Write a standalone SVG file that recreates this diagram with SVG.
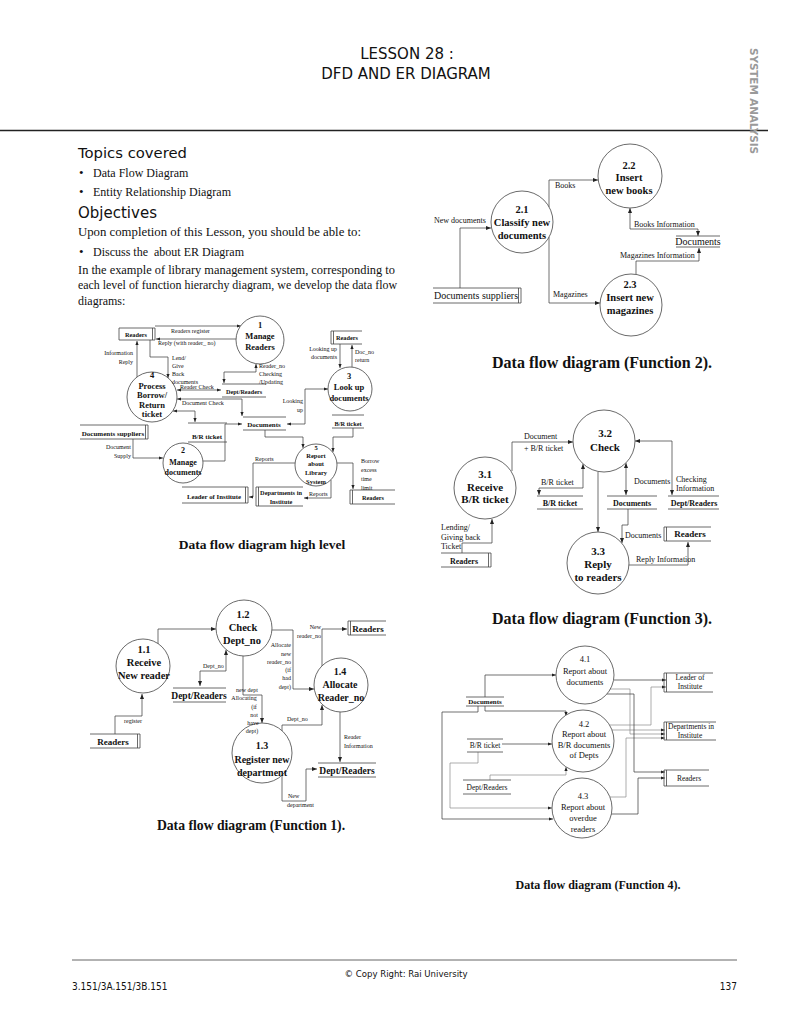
<svg xmlns="http://www.w3.org/2000/svg" width="791" height="1024" viewBox="0 0 791 1024">
<defs>
<marker id="ah" viewBox="0 0 10 10" refX="10" refY="5" markerWidth="5" markerHeight="5" markerUnits="userSpaceOnUse" orient="auto-start-reverse"><path d="M0,1 L10,5 L0,9 z" fill="#222"/></marker>
<marker id="as" viewBox="0 0 10 10" refX="10" refY="5" markerWidth="4" markerHeight="4" markerUnits="userSpaceOnUse" orient="auto-start-reverse"><path d="M0,1 L10,5 L0,9 z" fill="#222"/></marker>
</defs>
<style>
.p{fill:#fff;stroke:#444;stroke-width:0.8}
.st{fill:none;stroke:#444;stroke-width:0.8}
.c{fill:none;stroke:#333;stroke-width:0.7}
.g{stroke:#8a8a8a}
.a{marker-end:url(#ah)}
.b{marker-start:url(#ah);marker-end:url(#ah)}
.as{marker-end:url(#as)}
.bs{marker-start:url(#as);marker-end:url(#as)}
text{font-family:"Liberation Serif","Times New Roman",serif;fill:#111}
.sans{font-family:"DejaVu Sans",sans-serif}
.m{text-anchor:middle}
.e{text-anchor:end}
.bd{font-weight:bold}
.cap{font-weight:bold;text-anchor:middle}
</style>
<rect width="791" height="1024" fill="#fff"/>

<!-- Page header -->
<g id="header">
<text class="sans m" x="407" y="59" font-size="15">LESSON 28 :</text>
<text class="sans m" x="406" y="79" font-size="15">DFD AND ER DIAGRAM</text>
<line x1="0" y1="130.5" x2="768" y2="130.5" stroke="#222" stroke-width="1.5"/>
<text class="sans bd" transform="translate(750,48) rotate(90)" font-size="10.5" style="fill:#9a9a9a" textLength="106" lengthAdjust="spacing">SYSTEM  ANALYSIS</text>
</g>

<!-- Body text -->
<g id="body">
<text class="sans" x="78" y="158" font-size="14.8">Topics covered</text>
<text x="79" y="177" font-size="13">•</text>
<text x="93" y="177" font-size="12">Data Flow Diagram</text>
<text x="79" y="196" font-size="13">•</text>
<text x="93" y="196" font-size="12">Entity Relationship Diagram</text>
<text class="sans" x="78" y="218" font-size="15">Objectives</text>
<text x="78" y="236" font-size="12" textLength="283" lengthAdjust="spacingAndGlyphs">Upon completion of this Lesson, you should be able to:</text>
<text x="79" y="256" font-size="13">•</text>
<text x="93" y="256" font-size="12" xml:space="preserve">Discuss the  about ER Diagram</text>
<text x="78" y="274" font-size="12" textLength="317" lengthAdjust="spacingAndGlyphs">In the example of library management system, corresponding to</text>
<text x="78" y="289" font-size="12" textLength="319" lengthAdjust="spacingAndGlyphs">each level of function hierarchy diagram, we develop the data flow</text>
<text x="78" y="305" font-size="12">diagrams:</text>
</g>

<!-- ================= High level DFD ================= -->
<g id="dfd-high">
<g id="hl-connectors">
<path class="c as" d="M155,326 H241"/>
<path class="c as" d="M237,339 H156"/>
<path class="c as" d="M137,377 V341"/>
<path class="c as" d="M150,340 V357 H168 V378"/>
<path class="c bs" d="M177,390 H221"/>
<path class="c bs" d="M177,399 H242 V416"/>
<path class="c bs" d="M224,383 V372 H256 V364"/>
<path class="c as" d="M203,461 H225 V424 H242"/>
<path class="c bs" d="M287,424 H305 V389 H328"/>
<path class="c as" d="M340,344 V368"/>
<path class="c as" d="M352,367 V345"/>
<path class="c as" d="M265,430 V437 H303 V448"/>
<path class="c as" d="M353,428 V437 H333 V452"/>
<path class="c as" d="M337,463 H353 V489"/>
<path class="c as" d="M331,480 V498 H304"/>
<path class="c as" d="M295,463 H253 V497 H249"/>
<path class="c bs" d="M173,411 H195 V422"/>
<path class="c as" d="M133,439 V458 H163"/>
</g>
<g id="hl-p1"><circle class="p" cx="260" cy="340" r="24"/>
<g font-size="8.5"><text class="m bd" x="260" y="328">1</text><text class="m bd" x="260" y="339">Manage</text><text class="m bd" x="260" y="350">Readers</text></g></g>
<g id="hl-p4"><circle class="p" cx="152" cy="397" r="25"/>
<g font-size="8.5"><text class="m bd" x="152" y="378">4</text><text class="m bd" x="152" y="389">Process</text><text class="m bd" x="152" y="398">Borrow/</text><text class="m bd" x="152" y="408">Return</text><text class="m bd" x="152" y="417">ticket</text></g></g>
<g id="hl-p2"><circle class="p" cx="183" cy="463" r="20"/>
<g font-size="8"><text class="m bd" x="183" y="453">2</text><text class="m bd" x="183" y="465">Manage</text><text class="m bd" x="183" y="475">documents</text></g></g>
<g id="hl-p3"><circle class="p" cx="350" cy="389" r="22"/>
<g font-size="8.5"><text class="m bd" x="349" y="379">3</text><text class="m bd" x="349" y="390">Look up</text><text class="m bd" x="349" y="401">documents</text></g></g>
<g id="hl-p5"><circle class="p" cx="316" cy="465" r="21"/>
<g font-size="6.5"><text class="m bd" x="316" y="450">5</text><text class="m bd" x="316" y="458">Report</text><text class="m bd" x="316" y="466">about</text><text class="m bd" x="316" y="475">Library</text><text class="m bd" x="316" y="484">System</text></g></g>
<g id="hl-s-readers1"><path class="st" d="M119,328 H155 V340 H119 Z M152.5,328 V340"/><text class="m bd" x="136" y="337" font-size="6.3">Readers</text></g>
<g id="hl-s-readers2"><path class="st" d="M362,331 H331 V344 H362 M333.5,331 V344"/><text class="m bd" x="347" y="340" font-size="6.3">Readers</text></g>
<g id="hl-s-deptreaders"><path class="st" d="M222,384 H266 M222,397 H266"/><text class="m bd" x="244" y="394" font-size="6.2">Dept/Readers</text></g>
<g id="hl-s-documents"><path class="st" d="M243,417 H286 M243,430 H286"/><text class="m bd" x="264" y="427" font-size="7">Documents</text></g>
<g id="hl-s-brticket1"><path class="st" d="M188,423 H227 M188,442 H227"/><text class="m bd" x="207" y="439" font-size="7">B/R ticket</text></g>
<g id="hl-s-brticket2"><path class="st" d="M332,415 H364 M332,428 H364"/><text class="m bd" x="348" y="425.5" font-size="6.3">B/R ticket</text></g>
<g id="hl-s-docsuppliers"><path class="st" d="M80,425 H148 V439 H80 M145.5,425 V439"/><text class="m bd" x="113" y="436" font-size="7">Documents suppliers</text></g>
<g id="hl-s-leader"><path class="st" d="M182,487 H248 V503 H182 M245.5,487 V503"/><text class="m bd" x="214" y="499" font-size="6.8">Leader of Institute</text></g>
<g id="hl-s-depts"><path class="st" d="M303,487 H256 V506 H303 M258.5,487 V506"/><text class="m bd" x="281" y="495" font-size="6.3">Departments in</text><text class="m bd" x="281" y="503.5" font-size="6.3">Institute</text></g>
<g id="hl-s-readers3"><path class="st" d="M395,490 H350 V504 H395 M352.5,490 V504"/><text class="m bd" x="373" y="500" font-size="6.3">Readers</text></g>
<g id="hl-labels" font-size="6">
<text x="171" y="333">Readers register</text>
<text x="158" y="345">Reply (with reader_ no)</text>
<text class="e" x="133" y="355">Information</text>
<text class="e" x="133" y="364">Reply</text>
<text x="172" y="360">Lend/</text>
<text x="172" y="368">Give</text>
<text x="172" y="376">Back</text>
<text x="172" y="384">documents</text>
<text x="180" y="388.5">Reader Check</text>
<text x="182" y="405">Document Check</text>
<text x="259" y="368">Reader_no</text>
<text x="259" y="376">Checking</text>
<text x="259" y="384">/Updating</text>
<text class="e" x="303" y="403">Looking</text>
<text class="e" x="303" y="412">up</text>
<text class="e" x="337" y="351">Looking up</text>
<text class="e" x="337" y="359">documents</text>
<text x="355" y="354">Doc_no</text>
<text x="355" y="362">return</text>
<text x="361" y="463">Borrow</text>
<text x="361" y="472">excess</text>
<text x="361" y="481">time</text>
<text x="361" y="490">limit</text>
<text x="309" y="496">Reports</text>
<text x="255" y="461">Reports</text>
<text class="e" x="131" y="449">Document</text>
<text class="e" x="131" y="458">Supply</text>
</g>
<text class="cap" x="262" y="549" font-size="13.5">Data flow diagram high level</text>
</g>

<!-- ================= Function 2 ================= -->
<g id="dfd-f2">
<g id="f2-connectors">
<path class="c a" d="M460,288 V228 H491"/>
<path class="c a" d="M549,207 V180 H598"/>
<path class="c a" d="M549,237 V303 H600"/>
<path class="c b" d="M630,208 V229 H698 V236"/>
<path class="c a" d="M636,274 V261 H699 V248"/>
<g font-size="8">
<text x="434" y="223">New documents</text>
<text x="555" y="188">Books</text>
<text x="553" y="297">Magazines</text>
<text x="634" y="227">Books Information</text>
<text x="620" y="258">Magazines Information</text>
</g>
</g>
<g id="f2-p21"><circle class="p" cx="522" cy="222" r="31"/>
<g font-size="10.5"><text class="m bd" x="522" y="213">2.1</text><text class="m bd" x="522" y="226">Classify new</text><text class="m bd" x="522" y="239">documents</text></g></g>
<g id="f2-p22"><circle class="p" cx="630" cy="176" r="32"/>
<g font-size="10.5"><text class="m bd" x="629" y="169">2.2</text><text class="m bd" x="629" y="181">Insert</text><text class="m bd" x="629" y="194">new books</text></g></g>
<g id="f2-p23"><circle class="p" cx="631" cy="305" r="31"/>
<g font-size="10.5"><text class="m bd" x="630" y="288">2.3</text><text class="m bd" x="630" y="301">Insert new</text><text class="m bd" x="630" y="314">magazines</text></g></g>
<g id="f2-s-docsuppliers"><path class="st" d="M433,288 H521 V303 H433 M518.5,288 V303"/><text class="m" x="476" y="299" font-size="10">Documents suppliers</text></g>
<g id="f2-s-documents"><path class="st" d="M676,236 H720 M676,247 H720"/><text class="m" x="698" y="244.5" font-size="10">Documents</text></g>
<text class="cap" x="602" y="368" font-size="16">Data flow diagram (Function 2).</text>
</g>

<!-- ================= Function 3 ================= -->
<g id="dfd-f3">
<g id="f3-connectors">
<path class="c a" d="M512,471 V442 H573"/>
<path class="c b" d="M583,464 V488 H539 V495"/>
<path class="c a" d="M598,472 V532"/>
<path class="c b" d="M626,463 V495"/>
<path class="c b" d="M635,441 H672 V495"/>
<path class="c a" d="M628,509 V525 H622 V543"/>
<path class="c a" d="M629,565 H688 V542"/>
<path class="c a" d="M462,553 V543 H492 V519"/>
<g font-size="8">
<text x="524" y="439">Document</text>
<text x="524" y="451">+ B/R ticket</text>
<text x="541" y="485">B/R ticket</text>
<text x="634" y="484">Documents</text>
<text x="676" y="482">Checking</text>
<text x="676" y="491">Information</text>
<text x="625" y="538">Documents</text>
<text x="636" y="562">Reply Information</text>
<text x="441" y="530">Lending/</text>
<text x="441" y="540">Giving back</text>
<text x="441" y="549">Ticket</text>
</g>
</g>
<g id="f3-p31"><circle class="p" cx="485" cy="488" r="31"/>
<g font-size="11"><text class="m bd" x="485" y="478">3.1</text><text class="m bd" x="485" y="491">Receive</text><text class="m bd" x="485" y="503">B/R ticket</text></g></g>
<g id="f3-p32"><circle class="p" cx="604" cy="441" r="31"/>
<g font-size="11"><text class="m bd" x="605" y="437">3.2</text><text class="m bd" x="605" y="451">Check</text></g></g>
<g id="f3-p33"><circle class="p" cx="598" cy="563" r="31"/>
<g font-size="11"><text class="m bd" x="598" y="555">3.3</text><text class="m bd" x="598" y="568">Reply</text><text class="m bd" x="598" y="581">to readers</text></g></g>
<g id="f3-s-readers1"><path class="st" d="M441,553 H491 V567 H441 M488.5,553 V567"/><text class="m bd" x="464" y="563.5" font-size="8">Readers</text></g>
<g id="f3-s-brticket"><path class="st" d="M537,496 H583 M537,509 H583"/><text class="m bd" x="560" y="505.5" font-size="8">B/R ticket</text></g>
<g id="f3-s-documents"><path class="st" d="M607,496 H657 M607,509 H657"/><text class="m bd" x="632" y="505.5" font-size="8">Documents</text></g>
<g id="f3-s-deptreaders"><path class="st" d="M668,496 H719 M668,509 H719"/><text class="m bd" x="694" y="505.5" font-size="8">Dept/Readers</text></g>
<g id="f3-s-readers2"><path class="st" d="M711,527 H664 V541 H711 M666.5,527 V541"/><text class="m bd" x="690" y="537" font-size="9">Readers</text></g>
<text class="cap" x="602" y="624" font-size="16">Data flow diagram (Function 3).</text>
</g>

<!-- ================= Function 1 ================= -->
<g id="dfd-f1">
<g id="f1-connectors">
<path class="c a" d="M115,734 V716 H142 V694"/>
<path class="c a" d="M158,644 V629 H216"/>
<path class="c b" d="M226,650 V671 H200 V686"/>
<path class="c a" d="M243,656 V695 H262 V723"/>
<path class="c a" d="M272,630 H293 V689 H314"/>
<path class="c a" d="M322,666 V629 H347"/>
<path class="c a" d="M282,731 V725 H322 V705"/>
<path class="c a" d="M340,712 V762"/>
<path class="c a" d="M282,776 V801 H306 V769 H317"/>
</g>
<g id="f1-p11"><circle class="p" cx="143" cy="666" r="27"/>
<g font-size="10.5"><text class="m bd" x="144" y="653">1.1</text><text class="m bd" x="144" y="666">Receive</text><text class="m bd" x="144" y="679">New reader</text></g></g>
<g id="f1-p12"><circle class="p" cx="244" cy="628" r="28"/>
<g font-size="10.5"><text class="m bd" x="243" y="618">1.2</text><text class="m bd" x="243" y="631">Check</text><text class="m bd" x="242" y="644">Dept_no</text></g></g>
<g id="f1-p14"><circle class="p" cx="341" cy="685" r="27"/>
<g font-size="10"><text class="m bd" x="340" y="675">1.4</text><text class="m bd" x="340" y="688">Allocate</text><text class="m bd" x="341" y="701">Reader_no</text></g></g>
<g id="f1-p13"><circle class="p" cx="262" cy="753" r="30"/>
<g font-size="10"><text class="m bd" x="262" y="749">1.3</text><text class="m bd" x="262" y="763">Register new</text><text class="m bd" x="262" y="776">department</text></g></g>
<g id="f1-s-readers1"><path class="st" d="M90,734 H140 V748 H90 M137.5,734 V748"/><text class="m bd" x="113" y="744.5" font-size="9">Readers</text></g>
<g id="f1-s-deptreaders1"><path class="st" d="M173,688 H226 M173,702 H226"/><text class="m bd" x="199" y="699" font-size="9.5">Dept/Readers</text></g>
<g id="f1-s-readers2"><path class="st" d="M386,621 H348 V635 H386 M350.5,621 V635"/><text class="m bd" x="368" y="632" font-size="9">Readers</text></g>
<g id="f1-s-deptreaders2"><path class="st" d="M318,763 H376 M318,777 H376"/><text class="m bd" x="347" y="774" font-size="9.5">Dept/Readers</text></g>
<g id="f1-labels" font-size="6">
<text x="124" y="723">register</text>
<text x="203" y="668">Dept_no</text>
<text class="m" x="247" y="692">new dept</text>
<text class="m" x="244" y="700">Allocating</text>
<text class="m" x="254" y="709">(if</text>
<text class="m" x="254" y="717">not</text>
<text class="m" x="253" y="725">have</text>
<text class="m" x="252" y="733">dept)</text>
<text class="e" x="291" y="647">Allocate</text>
<text class="e" x="291" y="656">new</text>
<text class="e" x="291" y="664">reader_no</text>
<text class="e" x="291" y="672">(if</text>
<text class="e" x="291" y="680">had</text>
<text class="e" x="291" y="689">dept)</text>
<text class="e" x="321" y="629">New</text>
<text class="e" x="321" y="638">reader_no</text>
<text x="287" y="721">Dept_no</text>
<text x="344" y="739">Reader</text>
<text x="344" y="748">Information</text>
<text x="288" y="798">New</text>
<text x="287" y="807">department</text>
</g>
<text class="cap" x="251" y="830" font-size="13.7">Data flow diagram (Function 1).</text>
</g>

<!-- ================= Function 4 ================= -->
<g id="dfd-f4">
<g id="f4-connectors">
<path class="c as" d="M485,697 V675 H556"/>
<path class="c as" d="M485,706 V711 H566 V716"/>
<path class="c as" d="M478,706 V712 H442 V819 H553"/>
<path class="c as" d="M502,744 H552"/>
<path class="c g as" d="M478,752 V763 H450 V808 H552"/>
<path class="c g as" d="M490,780 V775 H566 V767"/>
<path class="c as" d="M614,680 H666"/>
<path class="c g as" d="M610,725 H651 V687 H666"/>
<path class="c g as" d="M612,730 H665"/>
<path class="c g as" d="M610,689 H630 V734 H665"/>
<path class="c g as" d="M610,797 H626 V738 H665"/>
<path class="c as" d="M607,694 H634 V772 H665"/>
<path class="c as" d="M611,814 H638 V778 H665"/>
</g>
<g id="f4-p41"><circle class="p" cx="585" cy="675" r="29"/>
<g font-size="8.5"><text class="m" x="585" y="662">4.1</text><text class="m" x="585" y="674">Report about</text><text class="m" x="585" y="685">documents</text></g></g>
<g id="f4-p42"><circle class="p" cx="583" cy="741" r="31"/>
<g font-size="8.5"><text class="m" x="584" y="727">4.2</text><text class="m" x="584" y="737">Report about</text><text class="m" x="584" y="748">B/R documents</text><text class="m" x="584" y="758">of Depts</text></g></g>
<g id="f4-p43"><circle class="p" cx="582" cy="808" r="30"/>
<g font-size="8.5"><text class="m" x="583" y="799">4.3</text><text class="m" x="583" y="810">Report about</text><text class="m" x="583" y="821">overdue</text><text class="m" x="583" y="832">readers</text></g></g>
<g id="f4-s-documents"><path class="st" d="M466,697 H504 M466,706 H504"/><text class="m bd" x="485" y="704" font-size="7">Documents</text></g>
<g id="f4-s-brticket"><path class="st" d="M467,739 H503 M467,752 H503"/><text class="m" x="485" y="748" font-size="7.5">B/R ticket</text></g>
<g id="f4-s-deptreaders"><path class="st" d="M463,780 H511 M463,794 H511"/><text class="m" x="487" y="790" font-size="7.5">Dept/Readers</text></g>
<g id="f4-s-leader"><path class="st" d="M713,673 H664 V692 H713 M666.5,673 V692"/><text class="m" x="690" y="680" font-size="7.5">Leader of</text><text class="m" x="690" y="689" font-size="7.5">Institute</text></g>
<g id="f4-s-depts"><path class="st" d="M716,722 H664 V740 H716 M666.5,722 V740"/><text class="m" x="691" y="729" font-size="7.5">Departments in</text><text class="m" x="690" y="738" font-size="7.5">Institute</text></g>
<g id="f4-s-readers"><path class="st" d="M709,770 H664 V786 H709 M666.5,770 V786"/><text class="m" x="689" y="781" font-size="7.5">Readers</text></g>
<text class="cap" x="598" y="889" font-size="12">Data flow diagram (Function 4).</text>
</g>

<!-- Footer -->
<g id="footer">
<line x1="72" y1="960" x2="737" y2="960" stroke="#666" stroke-width="1"/>
<text class="m" x="406" y="977" font-size="9.5" style="font-family:'DejaVu Sans Condensed','DejaVu Sans',sans-serif">© Copy Right: Rai University</text>
<text x="72" y="990" font-size="10" style="font-family:'DejaVu Sans Condensed','DejaVu Sans',sans-serif">3.151/3A.151/3B.151</text>
<text class="e" x="737" y="990" font-size="10" style="font-family:'DejaVu Sans Condensed','DejaVu Sans',sans-serif">137</text>
</g>
</svg>
